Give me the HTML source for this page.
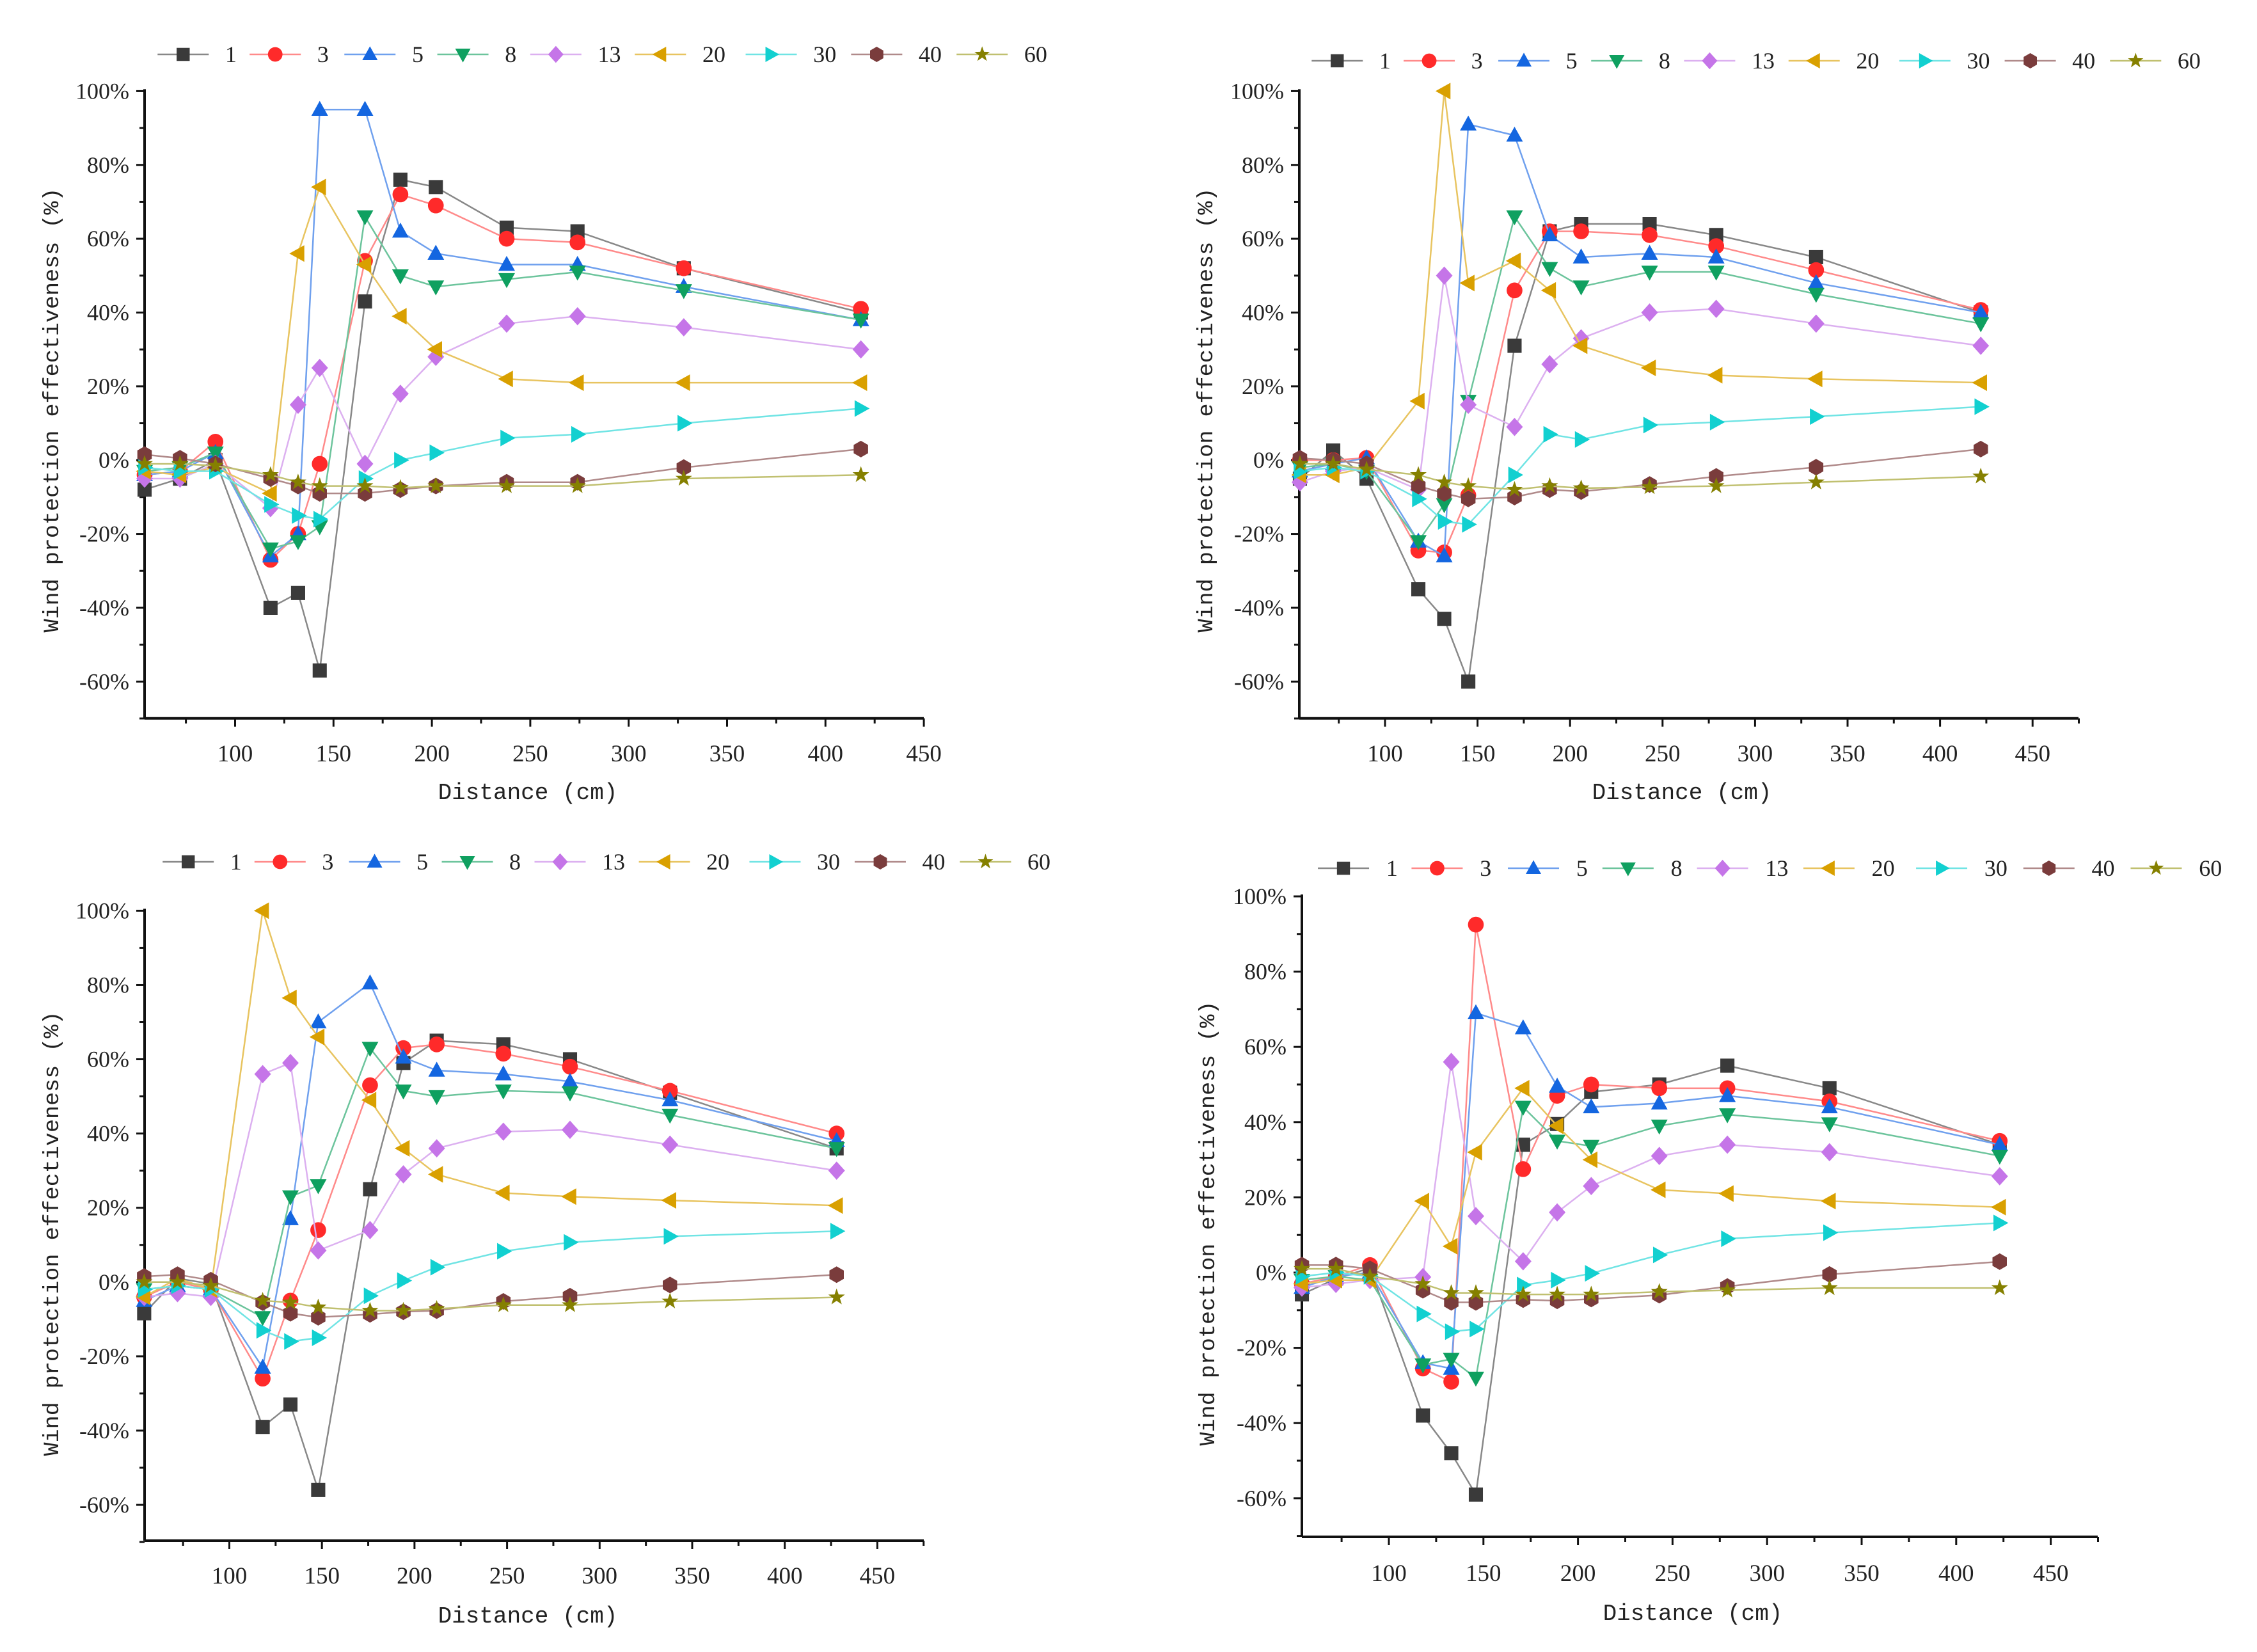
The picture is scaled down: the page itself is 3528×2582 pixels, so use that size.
<!DOCTYPE html>
<html><head><meta charset="utf-8">
<style>
html,body{margin:0;padding:0;background:#fff;overflow:hidden;}
svg{display:block;}
text{font-family:"Liberation Serif","Noto Serif CJK SC",serif;fill:#222;}
.mono{font-family:"Liberation Mono","Noto Sans CJK SC",monospace;}
</style></head>
<body>
<svg id="chart" width="3528" height="2582" viewBox="0 0 3528 2582" xmlns="http://www.w3.org/2000/svg"></svg>
<script>
const seriesNames = ["1","3","5","8","13","20","30","40","60"];
const seriesColors = ["#3a3a3a","#ff2a2a","#1466e0","#0fa060","#c575e8","#d9a000","#12d0d0","#7a3c3c","#858000"];
const lineColors = ["#888888","#ff8a8a","#6fa0ee","#6cc49c","#dcb0f0","#e8c460","#70e4e4","#b08a8a","#c0c070"];
const markerShapes = ["square","circle","up","down","diamond","left","right","hex","star"];
const xTicks = [100,150,200,250,300,350,400,450];
const yTicks = [-60,-40,-20,0,20,40,60,80,100];

const p1Dist = [54,72,90,118,132,143,166,184,202,238,274,328,418];
const p1S1 = [-8,-5,0,-40,-36,-57,43,76,74,63,62,52,40];
const p1S3 = [-4,-3,5,-27,-20,-1,54,72,69,60,59,52,41];
const p1S5 = [-4,-3,2,-26,-20,95,95,62,56,53,53,47,38];
const p1S8 = [-3,-2,2,-24,-22,-18,66,50,47,49,51,46,38];
const p1S13 = [-5,-5,-1,-13,15,25,-1,18,28,37,39,36,30];
const p1S20 = [-3,-4,-2,-9,56,74,53,39,30,22,21,21,21];
const p1S30 = [-2,-3,-3,-12,-15,-16,-5,0,2,6,7,10,14];
const p1S40 = [1.5,0.5,-1,-5,-7,-9,-9,-8,-7,-6,-6,-2,3];
const p1S60 = [-1,-1,-1.5,-4,-6,-7,-7,-7.5,-7,-7,-7,-5,-4];

const p2Dist = [54,72,90,118,132,145,170,189,206,243,279,333,422];
const p2S1 = [-5,2.6,-5,-35,-43,-60,31,62,64,64,61,55,40];
const p2S3 = [0,0,0.6,-24.5,-25,-9.5,46,62,62,61,58,51.5,40.7];
const p2S5 = [-3,-1,0.6,-22,-26,91,88,61,55,56,55,48,40];
const p2S8 = [-2,-1,-3,-22,-12,16,66,52,47,51,51,45,37];
const p2S13 = [-6,-3,-2,-8,50,15,9,26,33,40,41,37,31];
const p2S20 = [-4,-4,-2,16,100,48,54,46,31,25,23,22,21];
const p2S30 = [-3,-2,-3,-10.5,-16.6,-17.4,-4,7,5.6,9.5,10.3,11.8,14.5];
const p2S40 = [0.5,0,-1,-7,-9,-10.5,-10,-8,-8.5,-6.6,-4.4,-1.9,3];
const p2S60 = [-1,-1,-2.5,-4,-6,-7,-8,-7,-7.6,-7.3,-7,-6,-4.4];

const p3Dist = [54,72,90,118,133,148,176,194,212,248,284,338,428];
const p3S1 = [-8.4,1,-0.5,-39,-33,-56,25,59,65,64,60,51,36];
const p3S3 = [-4,0,-2,-26,-5,14,53,63,64,61.5,58,51.5,40];
const p3S5 = [-5,-1,-2,-23,17,70,80.5,60.5,57,56,54,49,38];
const p3S8 = [-2,-1,-2,-9.5,23,26,63,51.5,50,51.5,51,45,36];
const p3S13 = [-4,-3,-4,56,59,8.5,14,29,36,40.5,41,37,30];
const p3S20 = [-4,1,-2,100,76.5,66,49,36,29,24,23,22,20.6];
const p3S30 = [-2,-1,-2,-13,-16,-15,-3.7,0.4,4,8.3,10.7,12.3,13.7];
const p3S40 = [1.5,2,0.5,-5.5,-8.4,-9.5,-8.7,-8,-7.7,-5.2,-3.8,-0.8,2];
const p3S60 = [0,0,-1,-5,-5.5,-6.8,-7.7,-7.7,-7.2,-6.2,-6.2,-5.2,-4.1];

const p4Dist = [54,72,90,118,133,146,171,189,207,243,279,333,423];
const p4S1 = [-5.8,-1.6,1.2,-38,-48,-59,34,39.5,48,50,55,49,34];
const p4S3 = [-3,-1,2,-25.5,-29,92.5,27.5,47,50,49,49,45.5,35];
const p4S5 = [-4,-1,0,-24,-25.5,69,65,49.5,44,45,47,44,34];
const p4S8 = [-2,-1,-2,-24.5,-23,-28,44,35,33.6,39,42,39.6,31];
const p4S13 = [-4,-3,-2,-1.2,56,15,3,16,23,31,34,32,25.6];
const p4S20 = [-3,-2,-2,19,7,32,49,39,30,22,21,19,17.4];
const p4S30 = [-1,0,-1,-11,-15.7,-15,-3.3,-2,-0.2,4.7,9,10.6,13.2];
const p4S40 = [2,2,1,-4.7,-7.9,-7.9,-7.2,-7.5,-7,-6,-3.7,-0.5,2.9];
const p4S60 = [1,1,-1,-3,-5.4,-5.4,-5.8,-5.8,-5.8,-5.1,-4.7,-4.1,-4.1];

const panels = [
 {id:"a", dist:p1Dist, series:[p1S1,p1S3,p1S5,p1S8,p1S13,p1S20,p1S30,p1S40,p1S60],
  left:226, right:1444, y100:142.4, perPct:5.768, bottom:1122.7, x100:367.5, per50:153.8,
  legY:85, legX0:243, legX1:1640, tickLabY:1190, xtX:825, xtY:1249, ytX:79, ytY:641},
 {id:"b", dist:p2Dist, series:[p2S1,p2S3,p2S5,p2S8,p2S13,p2S20,p2S30,p2S40,p2S60],
  left:2031, right:3249, y100:142.4, perPct:5.768, bottom:1122.7, x100:2165, per50:144.6,
  legY:95, legX0:2047, legX1:3443, tickLabY:1190, xtX:2629, xtY:1249, ytX:1883, ytY:641},
 {id:"c", dist:p3Dist, series:[p3S1,p3S3,p3S5,p3S8,p3S13,p3S20,p3S30,p3S40,p3S60],
  left:226, right:1444, y100:1423.4, perPct:5.804, bottom:2408, x100:358.5, per50:144.7,
  legY:1347, legX0:251, legX1:1645, tickLabY:2475, xtX:825, xtY:2536, ytX:79, ytY:1928},
 {id:"d", dist:p4Dist, series:[p4S1,p4S3,p4S5,p4S8,p4S13,p4S20,p4S30,p4S40,p4S60],
  left:2035, right:3279, y100:1401, perPct:5.88, bottom:2402, x100:2171, per50:147.8,
  legY:1357, legX0:2056, legX1:3477, tickLabY:2471, xtX:2646, xtY:2532, ytX:1886, ytY:1912}
];
const legendFrac = [0.031,0.134,0.24,0.344,0.448,0.565,0.689,0.807,0.925];

const NS = "http://www.w3.org/2000/svg";
const svg = document.getElementById("chart");
function mk(tag, attrs, parent){
  const e = document.createElementNS(NS, tag);
  for (const k in attrs) e.setAttribute(k, attrs[k]);
  (parent||svg).appendChild(e);
  return e;
}
function markerPath(shape, cx, cy, r){
  const p = [];
  if (shape==="square") return `M${cx-r*0.85},${cy-r*0.85}h${1.7*r}v${1.7*r}h${-1.7*r}Z`;
  if (shape==="up") return `M${cx},${cy-r*1.05}L${cx+r},${cy+r*0.75}L${cx-r},${cy+r*0.75}Z`;
  if (shape==="down") return `M${cx},${cy+r*1.05}L${cx+r},${cy-r*0.75}L${cx-r},${cy-r*0.75}Z`;
  if (shape==="left") return `M${cx-r*1.05},${cy}L${cx+r*0.75},${cy-r}L${cx+r*0.75},${cy+r}Z`;
  if (shape==="right") return `M${cx+r*1.05},${cy}L${cx-r*0.75},${cy-r}L${cx-r*0.75},${cy+r}Z`;
  if (shape==="diamond") return `M${cx},${cy-r*1.1}L${cx+r},${cy}L${cx},${cy+r*1.1}L${cx-r},${cy}Z`;
  if (shape==="hex"){ for(let i=0;i<6;i++){const a=Math.PI/6+i*Math.PI/3; p.push((cx+r*Math.cos(a)).toFixed(1)+","+(cy+r*Math.sin(a)).toFixed(1));} return "M"+p.join("L")+"Z"; }
  if (shape==="star"){ for(let i=0;i<10;i++){const a=-Math.PI/2+i*Math.PI/5; const rr=i%2?r*0.42:r*1.05; p.push((cx+rr*Math.cos(a)).toFixed(1)+","+(cy+rr*Math.sin(a)).toFixed(1));} return "M"+p.join("L")+"Z"; }
  return null;
}
function drawMarker(g, si, cx, cy, r){
  const shape = markerShapes[si];
  let m;
  if (shape==="circle") m = mk("circle",{cx:cx,cy:cy,r:r*0.95,fill:seriesColors[si]},g);
  else m = mk("path",{d:markerPath(shape,cx,cy,r),fill:seriesColors[si]},g);
  return m;
}

panels.forEach(P=>{
  const xs = d => P.x100 + (d-100)/50*P.per50;
  const ys = v => P.y100 + (100-v)*P.perPct;
  const g = mk("g",{});
  
  

  const ax = mk("g",{},g);
  
  
  mk("line",{x1:P.left,y1:P.bottom,x2:P.right,y2:P.bottom,stroke:"#111","stroke-width":4},ax);
  mk("line",{x1:P.left,y1:P.bottom,x2:P.left,y2:P.y100-3,stroke:"#111","stroke-width":4},ax);
  for (let d=50; d<=475; d+=25){
    const x = xs(d);
    if (x < P.left-1 || x > P.right+1) continue;
    const major = d%50===0;
    mk("line",{x1:x,y1:P.bottom,x2:x,y2:P.bottom+(major?13:8),stroke:"#111","stroke-width":3},ax);
  }
  xTicks.forEach(t=>{
    const tl = mk("text",{x:xs(t),y:P.tickLabY,"font-size":37,"text-anchor":"middle"},ax);
    
    
    tl.textContent = t;
  });
  for (let v=-70; v<=100; v+=10){
    const y = ys(v);
    const major = v%20===0;
    mk("line",{x1:P.left,y1:y,x2:P.left-(major?13:8),y2:y,stroke:"#111","stroke-width":3},ax);
  }
  yTicks.forEach(t=>{
    const tl = mk("text",{x:P.left-24,y:ys(t)+12,"font-size":36,"text-anchor":"end"},ax);
    
    
    tl.textContent = t+"%";
  });
  const xt = mk("text",{x:P.xtX,y:P.xtY,"font-size":36,"text-anchor":"middle",class:"mono"},g);
  
  
  xt.textContent = "Distance (cm)";
  const yt = mk("text",{x:0,y:0,"font-size":34,"text-anchor":"middle",class:"mono",transform:`translate(${P.ytX+12},${P.ytY}) rotate(-90)`,textLength:695,lengthAdjust:"spacingAndGlyphs"},g);
  
  
  yt.textContent = "Wind protection effectiveness (%)";

  P.series.forEach((vals,si)=>{
    const sg = mk("g",{},g);
    
    
    const pts = vals.map((v,i)=>xs(P.dist[i]).toFixed(1)+","+ys(v).toFixed(1)).join(" ");
    const pl = mk("polyline",{points:pts,fill:"none",stroke:lineColors[si],"stroke-width":2.5},sg);
    
    
    vals.forEach((v,i)=>{
      const m = drawMarker(sg, si, xs(P.dist[i]), ys(v), 13);
      
      
    });
  });

  const lg = mk("g",{},g);
  
  
  const span = P.legX1 - P.legX0;
  seriesNames.forEach((n,si)=>{
    const cx = P.legX0 + legendFrac[si]*span;
    const eg = mk("g",{},lg);
    
    
    mk("line",{x1:cx-40,y1:P.legY,x2:cx+40,y2:P.legY,stroke:lineColors[si],"stroke-width":2.5},eg);
    drawMarker(eg, si, cx, P.legY, 12);
    const t = mk("text",{x:cx+0.047*span,y:P.legY+12,"font-size":36},eg);
    t.textContent = n;
  });
});
</script>
</body></html>
